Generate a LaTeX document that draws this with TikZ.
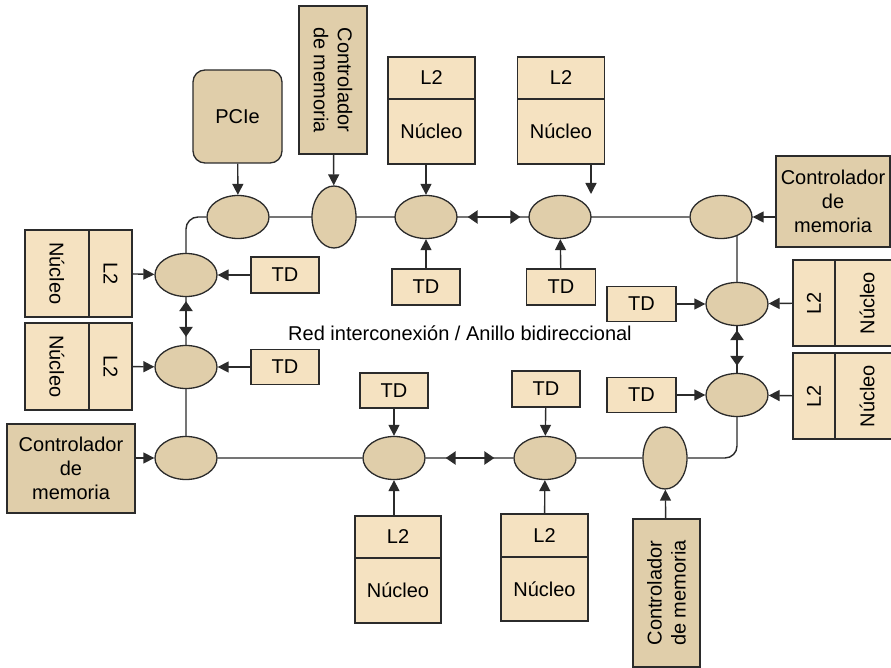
\documentclass[tikz,border=0pt]{standalone}
\usepackage{fontspec}
\setmainfont{Liberation Sans}
\usetikzlibrary{shapes.geometric,arrows.meta,backgrounds}
\definecolor{boxfill}{HTML}{F5E2C1}
\definecolor{tanfill}{HTML}{E0CEAA}
\definecolor{edge}{HTML}{2B2B2B}

\begin{document}
\begin{tikzpicture}[x=1pt,y=-1pt,
	font=\fontsize{20}{24}\selectfont,
	stop/.style={ellipse, draw=edge, line width=1.3pt, fill=tanfill, inner sep=0pt, minimum width=62pt, minimum height=43pt},
	vstop/.style={stop, minimum width=44pt, minimum height=62pt},
	part/.style={rectangle, draw=edge, line width=1.3pt, fill=boxfill, inner sep=0pt, align=center},
	ctrl/.style={part, fill=tanfill},
	link/.style={draw=edge, line width=1.4pt},
	arr/.style={link, -{Triangle[length=11pt,width=11pt]}},
	biarr/.style={draw=edge, line width=2.6pt, {Triangle[length=10pt,width=13pt]}-{Triangle[length=10pt,width=13pt]}}]
	\useasboundingbox (0,0) rectangle (891,668);

	% paradas del anillo
	\node[stop] (pcieR) at (238,217) {};
	\node[vstop] (mcTopR) at (334,217) {};
	\node[stop] (coreTopAR) at (426,217) {};
	\node[stop] (coreTopBR) at (560,217) {};
	\node[stop] (mcRightR) at (721,217) {};
	\node[stop] (rightAR) at (737,304) {};
	\node[stop] (rightBR) at (737,395) {};
	\node[vstop] (mcBotR) at (665,458) {};
	\node[stop] (coreBotBR) at (545,458) {};
	\node[stop] (coreBotAR) at (394,458) {};
	\node[stop] (mcLeftR) at (186,458) {};
	\node[stop] (leftBR) at (186,367) {};
	\node[stop] (leftAR) at (186,275) {};

	% bloques de arriba
	\node[ctrl, rounded corners=12pt, minimum width=89pt, minimum height=93pt] (pcie) at (237.5,116.5) {PCIe};
	\node[ctrl, rotate=-90, minimum width=148pt, minimum height=68pt] (mcTop) at (333,80) {Controlador\\de memoria};
	\node[part, minimum width=87pt, minimum height=42pt] (l2TopA) at (431.5,78) {L2};
	\node[part, minimum width=87pt, minimum height=65pt] (coreTopA) at (431.5,131.5) {Núcleo};
	\node[part, minimum width=87pt, minimum height=42pt] (l2TopB) at (561,78) {L2};
	\node[part, minimum width=87pt, minimum height=65pt] (coreTopB) at (561,131.5) {Núcleo};
	\node[part, minimum width=68pt, minimum height=36pt] (tdTopA) at (426,287) {TD};
	\node[part, minimum width=69pt, minimum height=36pt] (tdTopB) at (561,287) {TD};
	\coordinate (tipTopB) at (591,194);

	% bloques de la derecha
	\node[ctrl, minimum width=114pt, minimum height=91pt] (mcRight) at (833,201.5) {Controlador\\de\\memoria};
	\node[part, minimum width=69pt, minimum height=35pt] (tdRightA) at (641.5,304) {TD};
	\node[part, minimum width=69pt, minimum height=35pt] (tdRightB) at (641.5,395) {TD};
	\node[part, rotate=90, minimum width=86pt, minimum height=42pt] (l2RightA) at (814,303) {L2};
	\node[part, rotate=90, minimum width=86pt, minimum height=64pt] (coreRightA) at (867,303) {Núcleo};
	\node[part, rotate=90, minimum width=86pt, minimum height=42pt] (l2RightB) at (814,396) {L2};
	\node[part, rotate=90, minimum width=86pt, minimum height=64pt] (coreRightB) at (867,396) {Núcleo};

	% bloques de la izquierda
	\node[part, rotate=-90, minimum width=87pt, minimum height=64pt] (coreLeftA) at (57,273.5) {Núcleo};
	\node[part, rotate=-90, minimum width=87pt, minimum height=43pt] (l2LeftA) at (110.5,273.5) {L2};
	\node[part, rotate=-90, minimum width=87pt, minimum height=64pt] (coreLeftB) at (57,366.5) {Núcleo};
	\node[part, rotate=-90, minimum width=87pt, minimum height=43pt] (l2LeftB) at (110.5,366.5) {L2};
	\node[part, minimum width=68pt, minimum height=36pt] (tdLeftA) at (285,275) {TD};
	\node[part, minimum width=68pt, minimum height=35pt] (tdLeftB) at (285,367) {TD};
	\node[ctrl, minimum width=128pt, minimum height=89pt] (mcLeft) at (71,468.5) {Controlador\\de\\memoria};

	% bloques de abajo
	\node[part, minimum width=68pt, minimum height=35pt] (tdBotA) at (394,390.5) {TD};
	\node[part, minimum width=68pt, minimum height=36pt] (tdBotB) at (546,389) {TD};
	\node[part, minimum width=86pt, minimum height=42pt] (l2BotA) at (398,537) {L2};
	\node[part, minimum width=86pt, minimum height=65pt] (coreBotA) at (398,590.5) {Núcleo};
	\node[part, minimum width=87pt, minimum height=43pt] (l2BotB) at (544.5,535.5) {L2};
	\node[part, minimum width=87pt, minimum height=64pt] (coreBotB) at (544.5,589) {Núcleo};
	\node[ctrl, rotate=90, minimum width=148pt, minimum height=67pt] (mcBot) at (666.5,593) {Controlador\\de memoria};

	\node (ringLabel) at (460,333) {Red interconexión / Anillo bidireccional};

	% anillo
	\begin{scope}[on background layer]
		\draw[link, rounded corners=12pt] (leftAR) |- (pcieR) -- (mcRightR) -| (rightAR);
		\draw[link, rounded corners=12pt] (leftAR) -- (leftBR) -- (mcLeftR) -- (coreBotAR) -- (coreBotBR) -- (mcBotR) -| (rightBR);
		\draw[link] (rightAR) -- (rightBR);
	\end{scope}
	\draw[biarr, shorten <=10pt, shorten >=8pt] (coreTopAR) -- (coreTopBR);
	\draw[biarr, shorten <=20pt, shorten >=19pt] (coreBotAR) -- (coreBotBR);
	\draw[biarr, shorten <=4pt, shorten >=8pt] (leftAR) -- (leftBR);
	\draw[biarr, shorten <=4pt, shorten >=7pt] (rightAR) -- (rightBR);

	% conexiones
	\draw[arr] (pcie) -- (pcieR);
	\draw[arr] (mcTop) -- (mcTopR);
	\draw[arr] (coreTopA.south -| coreTopAR) -- (coreTopAR);
	\draw[arr] (coreTopB.south -| tipTopB) -- (tipTopB);
	\draw[arr] (tdTopA) -- (coreTopAR);
	\draw[arr] (tdTopB) -- (coreTopBR);
	\draw[arr] (mcRight.west |- mcRightR) -- (mcRightR);
	\draw[arr] (tdRightA) -- (rightAR);
	\draw[arr] (tdRightB) -- (rightBR);
	\draw[arr] (l2RightA) -- (rightAR);
	\draw[arr] (l2RightB) -- (rightBR);
	\draw[arr] (l2LeftA) -- (leftAR);
	\draw[arr] (l2LeftB) -- (leftBR);
	\draw[arr] (tdLeftA) -- (leftAR);
	\draw[arr] (tdLeftB) -- (leftBR);
	\draw[arr] (mcLeft.east |- mcLeftR) -- (mcLeftR);
	\draw[arr] (tdBotA) -- (coreBotAR);
	\draw[arr] (tdBotB) -- (coreBotBR);
	\draw[arr] (l2BotA.north -| coreBotAR) -- (coreBotAR);
	\draw[arr] (l2BotB) -- (coreBotBR);
	\draw[arr] (mcBot) -- (mcBotR);
\end{tikzpicture}
\end{document}
